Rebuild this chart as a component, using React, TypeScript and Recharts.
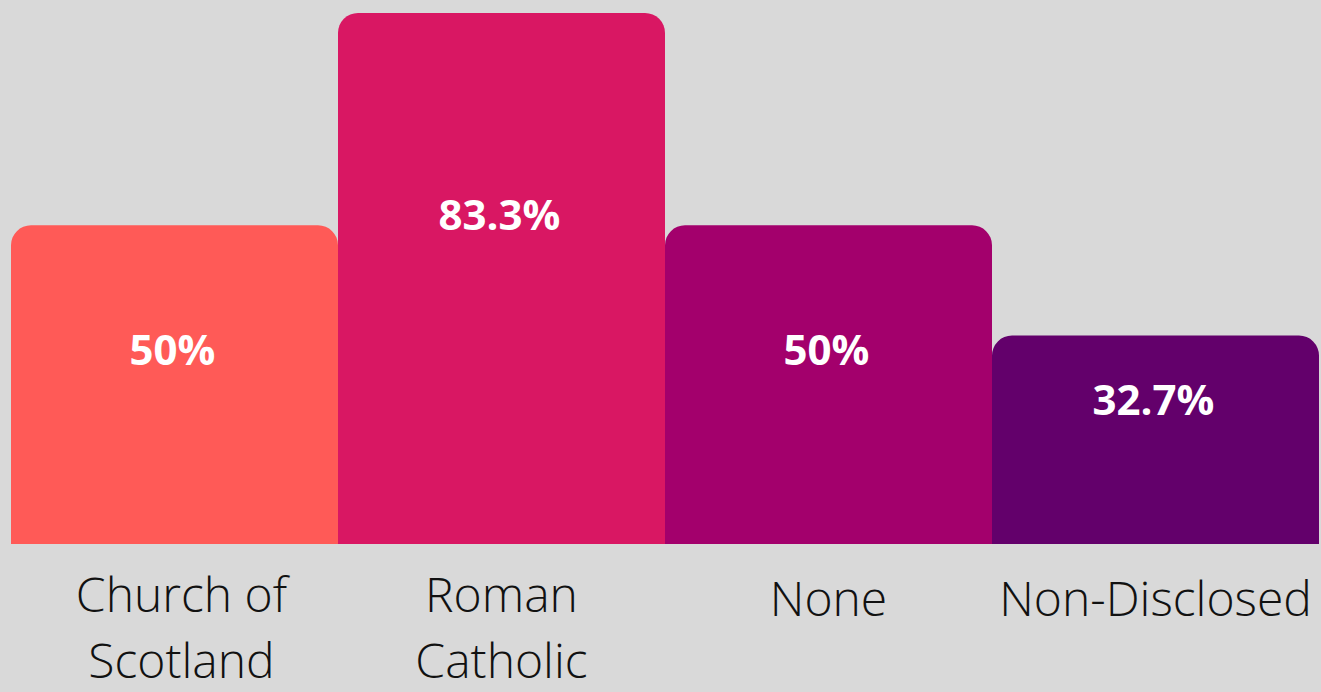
import React from "react";
import { BarChart, Bar, XAxis, YAxis, Cell, LabelList } from "recharts";

const categories = ["Church of Scotland", "Roman Catholic", "None", "Non-Disclosed"];
const tickLines = [["Church of", "Scotland"], ["Roman", "Catholic"], ["None"], ["Non-Disclosed"]];
const values = [50, 83.3, 50, 32.7];
const valueLabels = ["50%", "83.3%", "50%", "32.7%"];
const colors = ["#FF5A57", "#D91763", "#A3006C", "#63006B"];

const data = categories.map((c, i) => ({ name: c, value: values[i], label: valueLabels[i] }));

const Tick = (props: any) => {
  const { x, y, payload } = props;
  const idx = categories.indexOf(payload.value);
  const lines = tickLines[idx] || [payload.value];
  return (
    <g>
      {lines.map((l, i) => (
        <text
          key={i}
          x={x + (idx === 0 ? 7 : 0)}
          y={lines.length === 1 ? y + 72 : y + 68 + i * 66}
          textAnchor="middle"
          fontFamily="'Open Sans', sans-serif"
          fontWeight={300}
          fontSize={48}
          fill="#111"
        >
          {l}
        </text>
      ))}
    </g>
  );
};

const ValueLabel = (props: any) => {
  const { x, y, width, height, index } = props;
  const off = -0.000566 * height * height + 0.8444 * height - 71.8;
  return (
    <text
      x={x + width / 2 - 2}
      y={y + off}
      textAnchor="middle"
      fontFamily="'Open Sans', sans-serif"
      fontWeight={700}
      fontSize={42}
      fill="#ffffff"
    >
      {valueLabels[index]}
    </text>
  );
};

export default function App() {
  return (
    <div style={{ position: "absolute", left: 0, top: 0, width: 1321, height: 692, background: "#D9D9D9" }}>
      <BarChart
        width={1321}
        height={692}
        data={data}
        margin={{ top: 13, right: 2, left: 11, bottom: 0 }}
        barCategoryGap={0}
        barGap={0}
      >
        <YAxis hide domain={[0, 83.3]} />
        <XAxis
          dataKey="name"
          axisLine={false}
          tickLine={false}
          tickSize={0}
          tickMargin={0}
          height={148}
          interval={0}
          tick={<Tick />}
        />
        <Bar dataKey="value" radius={[20, 20, 0, 0]} isAnimationActive={false}>
          {data.map((d, i) => (
            <Cell key={i} fill={colors[i]} />
          ))}
          <LabelList dataKey="label" content={<ValueLabel />} />
        </Bar>
      </BarChart>
    </div>
  );
}
